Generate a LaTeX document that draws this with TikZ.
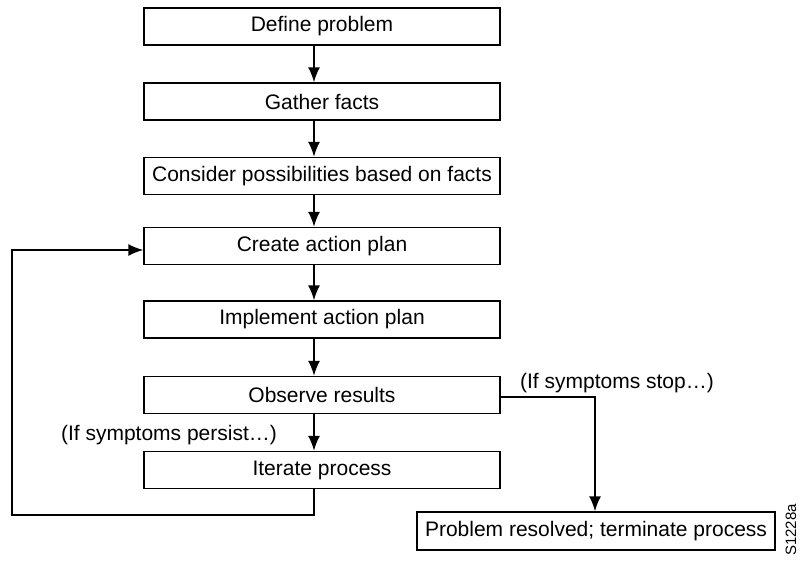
\documentclass[tikz,border=0pt]{standalone}
\usepackage{fontspec}
\setmainfont{Liberation Sans}
\usetikzlibrary{arrows.meta}
\begin{document}
\begin{tikzpicture}[x=1pt,y=-1pt,
  stepbox/.style={draw,line width=1.4pt,minimum width=356pt,minimum height=37pt,inner sep=0pt,font=\fontsize{21}{24}\selectfont},
  endbox/.style={draw,line width=1.4pt,minimum width=358pt,minimum height=38pt,inner sep=0pt,font=\fontsize{21}{24}\selectfont},
  flow/.style={line width=1.6pt,-{Latex[length=15pt,width=12pt]}},
  lbl/.style={font=\fontsize{21}{24}\selectfont,inner sep=0pt}]
\useasboundingbox (0,0) rectangle (800,562);
\node[stepbox] (s1) at (322,26.5) {Define problem};
\node[stepbox] (s2) at (322,101.5) {Gather facts};
\node[stepbox] (s3) at (322,176) {Consider possibilities based on facts};
\node[stepbox] (s4) at (322,246) {Create action plan};
\node[stepbox] (s5) at (322,319.5) {Implement action plan};
\node[stepbox] (s6) at (322,395) {Observe results};
\node[stepbox] (s7) at (322,470) {Iterate process};
\node[endbox] (end) at (596,531) {Problem resolved; terminate process};
\coordinate (c1) at (314,515);
\coordinate (c2) at (12,515);
\coordinate (c3) at (12,250);
\coordinate (c4) at (595,397);
\draw[flow] (s1.south -| 314,0) -- (s2.north -| 314,0);
\draw[flow] (s2.south -| 314,0) -- (s3.north -| 314,0);
\draw[flow] (s3.south -| 314,0) -- (s4.north -| 314,0);
\draw[flow] (s4.south -| 314,0) -- (s5.north -| 314,0);
\draw[flow] (s5.south -| 314,0) -- (s6.north -| 314,0);
\draw[flow] (s6.south -| 314,0) -- (s7.north -| 314,0);
\draw[flow] (s7.south -| c1) -- (c1) -- (c2) -- (c3) -- (c3 -| s4.west);
\draw[flow] (c4 -| s6.east) -- (c4) -- (c4 |- end.north);
\node[lbl] (stop) at (617,383) {(If symptoms stop\dots)};
\node[lbl] (persist) at (169,435) {(If symptoms persist\dots)};
\node[lbl,rotate=90,font=\fontsize{15}{18}\selectfont] (code) at (791,530) {S1228a};
\end{tikzpicture}
\end{document}
